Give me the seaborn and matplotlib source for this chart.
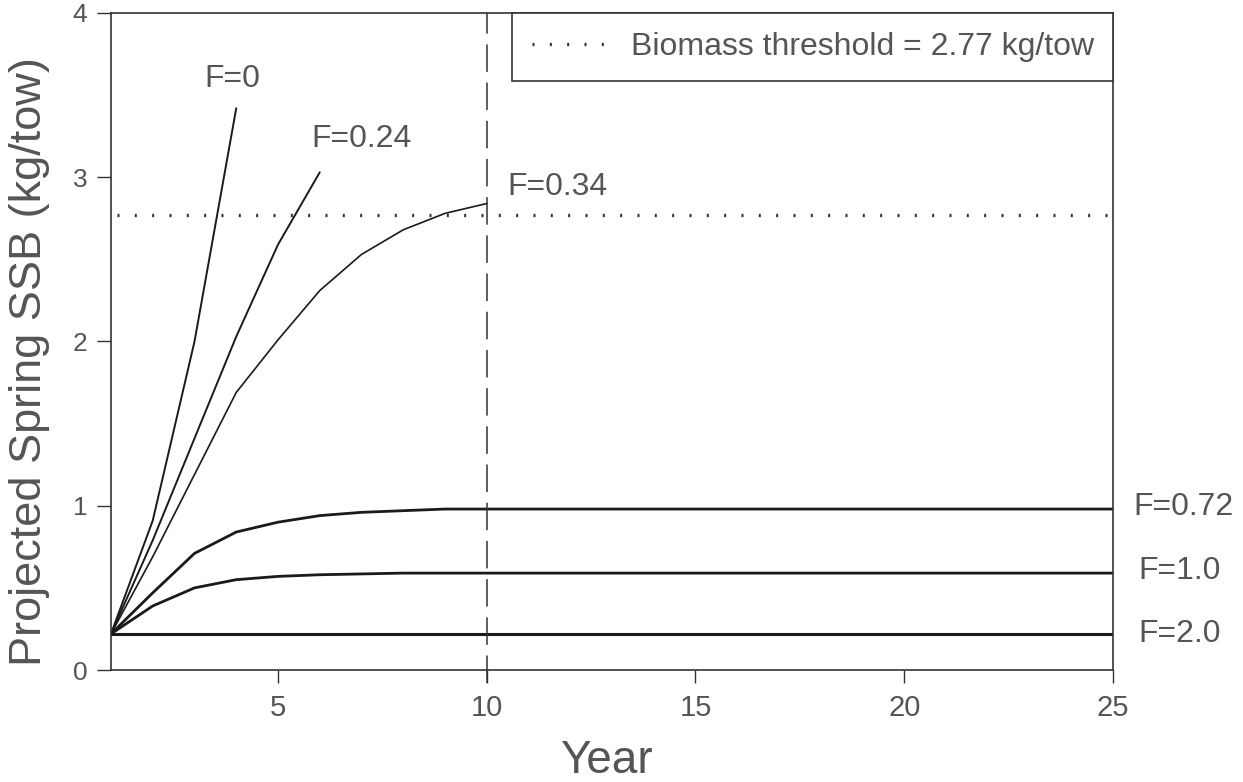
import numpy as np
import pandas as pd
import matplotlib
matplotlib.use("Agg")
import matplotlib.pyplot as plt
import seaborn as sns

# ---- data ----
years_f0 = [1, 2, 3, 4]
ssb_f0 = [0.22, 0.91, 2.00, 3.42]

years_f024 = [1, 2, 3, 4, 5, 6]
ssb_f024 = [0.22, 0.79, 1.41, 2.03, 2.59, 3.03]

years_f034 = [1, 2, 3, 4, 5, 6, 7, 8, 9, 10]
ssb_f034 = [0.22, 0.69, 1.19, 1.69, 2.01, 2.31, 2.53, 2.68, 2.78, 2.84]

years_long = list(range(1, 26))
ssb_f072 = [0.22, 0.47, 0.71, 0.84, 0.90, 0.94, 0.96, 0.97, 0.98, 0.98,
            0.98, 0.98, 0.98, 0.98, 0.98, 0.98, 0.98, 0.98, 0.98, 0.98,
            0.98, 0.98, 0.98, 0.98, 0.98]
ssb_f10 = [0.22, 0.39, 0.50, 0.55, 0.57, 0.58, 0.585, 0.59, 0.59, 0.59,
           0.59, 0.59, 0.59, 0.59, 0.59, 0.59, 0.59, 0.59, 0.59, 0.59,
           0.59, 0.59, 0.59, 0.59, 0.59]
ssb_f20 = [0.22] * 25

threshold = 2.77
ref_year = 10
x_ticks = [5, 10, 15, 20, 25]
y_ticks = [0, 1, 2, 3, 4]

series_labels = ["F=0", "F=0.24", "F=0.34", "F=0.72", "F=1.0", "F=2.0"]

frames = []
for lab, yrs, vals in [
    ("F=0", years_f0, ssb_f0),
    ("F=0.24", years_f024, ssb_f024),
    ("F=0.34", years_f034, ssb_f034),
    ("F=0.72", years_long, ssb_f072),
    ("F=1.0", years_long, ssb_f10),
    ("F=2.0", years_long, ssb_f20),
]:
    frames.append(pd.DataFrame({"Year": yrs, "SSB": vals, "F": lab}))
df = pd.concat(frames, ignore_index=True)

# ---- style ----
sns.set_style("white")
plt.rcParams["font.family"] = ["Liberation Sans", "DejaVu Sans"]
gray_text = "#555555"

fig = plt.figure(figsize=(12.43, 7.82), dpi=100)
ax = fig.add_axes([0.0893, 0.1432, 0.8061, 0.8402])

widths = {"F=0": 1.4, "F=0.24": 1.4, "F=0.34": 1.2,
          "F=0.72": 2.0, "F=1.0": 2.0, "F=2.0": 2.2}
for lab in series_labels:
    sub = df[df["F"] == lab]
    sns.lineplot(data=sub, x="Year", y="SSB", ax=ax, color="#1a1a1a",
                 linewidth=widths[lab], legend=False, estimator=None)

# threshold (dotted)
thr_df = pd.DataFrame({"Year": [1.15, 25], "SSB": [threshold, threshold]})
sns.lineplot(data=thr_df, x="Year", y="SSB", ax=ax, color="#333333",
             linewidth=2.4, linestyle=(0, (0.6, 4.6)),
             label="Biomass threshold = 2.77 kg/tow")

# vertical dashed line at year 10
ax.axvline(ref_year, color="#333333", linewidth=1.1,
           linestyle=(0, (18, 7)), ymin=-0.02, ymax=1.0, clip_on=False)

ax.set_xlim(1, 25)
ax.set_ylim(0, 4)
ax.set_xticks(x_ticks)
ax.set_yticks(y_ticks)
ax.tick_params(axis="x", direction="out", length=9, width=1.0,
               color="#333333", pad=8, bottom=True,
               labelsize=21, labelcolor=gray_text)
ax.tick_params(axis="y", direction="out", length=10, width=1.0,
               color="#333333", pad=7, left=True,
               labelsize=19, labelcolor=gray_text)
for lbl in ax.get_xticklabels():
    lbl.set_family(["Liberation Sans Narrow", "Liberation Sans"])

ax.set_xlabel("Year", fontsize=33, color=gray_text,
              family=["Liberation Sans Narrow", "Liberation Sans"])
ax.xaxis.set_label_coords(0.494, -0.105)
ax.set_ylabel("Projected Spring SSB (kg/tow)", fontsize=32.5, color=gray_text)
ax.yaxis.set_label_coords(-0.061, 0.469)

for s in ax.spines.values():
    s.set_visible(True)
    s.set_color("#333333")
    s.set_linewidth(1.2)

# labels for each curve
ann = [("F=0", 3.9, 3.6),
       ("F=0.24", 7.0, 3.23),
       ("F=0.34", 11.7, 2.94),
       ("F=0.72", 26.7, 0.99),
       ("F=1.0", 26.6, 0.60),
       ("F=2.0", 26.6, 0.22)]
for txt, xx, yy in ann:
    ax.text(xx, yy, txt, fontsize=23, color=gray_text, ha="center",
            va="center", clip_on=False)

leg = ax.legend(loc="upper right", borderaxespad=0, fancybox=False,
                edgecolor="#333333", fontsize=23, handlelength=2.3,
                handletextpad=0.8, borderpad=0.6, framealpha=1)
leg.get_frame().set_linewidth(1.2)
for t in leg.get_texts():
    t.set_color(gray_text)

fig.savefig("out.png", dpi=100)
